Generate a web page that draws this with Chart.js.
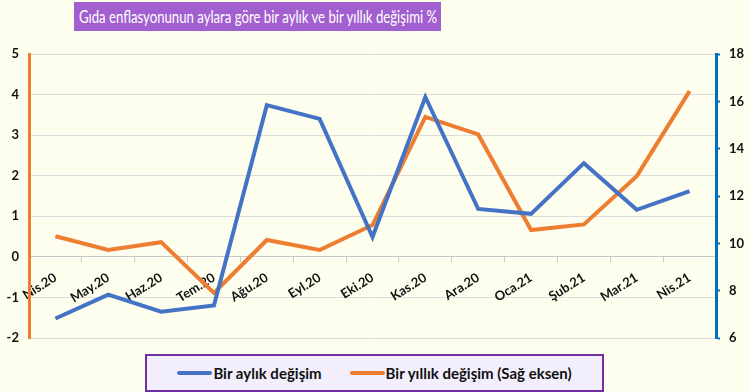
<!DOCTYPE html>
<html>
<head>
<meta charset="utf-8">
<script src="https://cdn.jsdelivr.net/npm/chart.js@4.4.1/dist/chart.umd.min.js"></script>
<style>
  html, body { margin: 0; padding: 0; background: #FDFEEE; }
  #wrap { position: relative; width: 750px; height: 392px; font-family: Lato, "Open Sans", sans-serif; }
  #chart { position: absolute; left: 0; top: 0; }
  #title {
    position: absolute; left: 74px; top: 2px; width: 367px; height: 29px;
    background: #A25FCF; color: #fff; overflow: hidden;
  }
  #title span {
    position: absolute; left: 50%; top: 0; line-height: 29px;
    white-space: nowrap; font-size: 18px;
    font-family: Lato, "Open Sans", sans-serif;
    transform: translateX(-50%);
  }
  #legend {
    position: absolute; left: 145px; top: 354px; width: 455px; height: 34px;
    border: 2px solid #7030A0; background: #F3EEFB;
    display: flex; align-items: center; justify-content: center;
    font-weight: bold; font-size: 15px; color: #111;
  }
  .item { display: flex; align-items: center; margin: 0 14px; }
  .swatch { width: 35px; height: 4px; border-radius: 2px; margin-right: 1px; }
</style>
</head>
<body>
<div id="wrap">
  <canvas id="chart" width="750" height="392"></canvas>
  <div id="title"><span>Gıda enflasyonunun aylara göre bir aylık ve bir yıllık değişimi %</span></div>
  <div id="legend"></div>
</div>
<script>
// months
var months = ['Nis.20', 'May.20', 'Haz.20', 'Tem.20', 'Ağu.20', 'Eyl.20', 'Eki.20',
              'Kas.20', 'Ara.20', 'Oca.21', 'Şub.21', 'Mar.21', 'Nis.21'];
// monthly change (left axis)
var monthly = [-1.52, -0.93, -1.35, -1.2, 3.74, 3.4, 0.49, 3.94, 1.18, 1.06, 2.31, 1.16, 1.62];
// annual change (right axis)
var annual = [10.3, 9.72, 10.05, 7.9, 10.14, 9.72, 10.77, 15.34, 14.6, 10.56, 10.8, 12.84, 16.43];

var blue = '#4472C4';
var orange = '#ED7D31';
var tickFont = { family: 'Lato, "Open Sans", sans-serif', size: 13, weight: 'bold' };

var chart = new Chart(document.getElementById('chart'), {
    type: 'line',
    data: {
        labels: months,
        datasets: [{
            label: 'Bir aylık değişim',
            data: monthly,
            borderColor: blue,
            borderWidth: 4,
            pointRadius: 0,
            yAxisID: 'y'
        }, {
            label: 'Bir yıllık değişim (Sağ eksen)',
            data: annual,
            borderColor: orange,
            borderWidth: 4,
            pointRadius: 0,
            yAxisID: 'y1'
        }]
    },
    options: {
        responsive: false,
        animation: false,
        layout: { padding: { top: 54, bottom: 54, left: 0, right: 0 } },
        plugins: {
            legend: { display: false },
            tooltip: { enabled: false }
        },
        scales: {
            x: {
                type: 'category',
                offset: true,
                position: { y: 0 },
                grid: {
                    offset: true,
                    drawOnChartArea: false,
                    drawTicks: true,
                    tickLength: 5,
                    tickColor: '#C8C8C8'
                },
                border: { color: '#C8C8C8', width: 1 },
                ticks: {
                    color: '#111',
                    font: { family: tickFont.family, size: 13, weight: 'bold' },
                    minRotation: 32,
                    maxRotation: 32,
                    autoSkip: false,
                    padding: 8
                }
            },
            y: {
                position: 'left',
                min: -2,
                max: 5,
                ticks: { stepSize: 1, color: '#111', font: tickFont, padding: 10 },
                grid: { color: '#DCDCDC', drawTicks: false },
                border: { color: orange, width: 3 },
                afterFit: function(scale) { scale.width = 29; }
            },
            y1: {
                position: 'right',
                min: 6,
                max: 18,
                ticks: { stepSize: 2, color: '#111', font: tickFont, padding: 9 },
                grid: { drawOnChartArea: false, drawTicks: true, tickLength: 4, tickWidth: 2, tickColor: '#0070C0' },
                border: { color: '#0070C0', width: 3 },
                afterFit: function(scale) { scale.width = 34; }
            }
        }
    }
});

// html legend from datasets
var legendEl = document.getElementById('legend');
chart.data.datasets.forEach(function(ds) {
    var item = document.createElement('div');
    item.className = 'item';
    var sw = document.createElement('span');
    sw.className = 'swatch';
    sw.style.background = ds.borderColor;
    var txt = document.createElement('span');
    txt.textContent = ds.label;
    item.appendChild(sw);
    item.appendChild(txt);
    legendEl.appendChild(item);
});

// the source font is narrow, squeeze the title to fit the box
var t = document.querySelector('#title span');
var avail = 358;
if (t.offsetWidth > avail) {
    t.style.transform = 'translateX(-50%) scaleX(' + (avail / t.offsetWidth) + ')';
}
</script>
</body>
</html>
